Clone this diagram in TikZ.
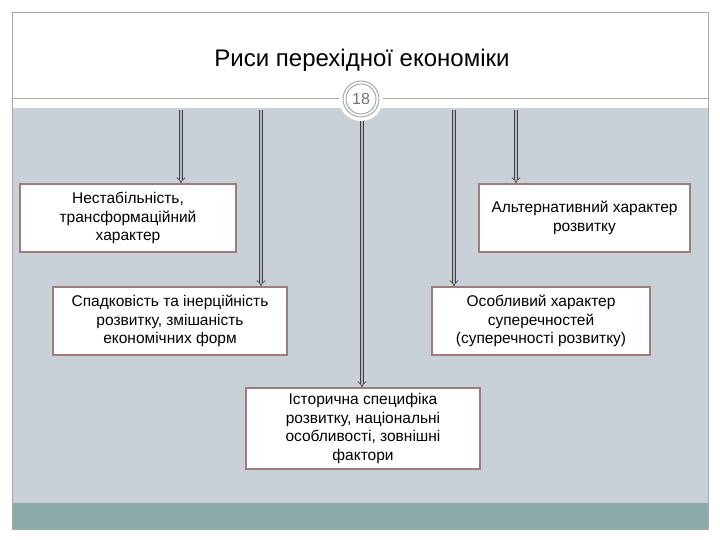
\documentclass[tikz,border=0pt]{standalone}
\usepackage{fontspec}
\setmainfont{Liberation Sans}
\usetikzlibrary{arrows.meta,
                positioning, % For easy node-relative placements
               }
\definecolor{bandgray}{HTML}{C7D1D7}
\definecolor{bandteal}{HTML}{8AABA9}
\definecolor{framegray}{HTML}{A3ABAB}
\definecolor{boxbrown}{HTML}{A07B78}
\tikzset{
  feature/.style = {rectangle, draw=boxbrown, line width=1.4pt, fill=white,
                    align=center, font=\fontsize{15.5}{18.7}\selectfont,
                    inner sep=0pt},
  downarrow/.style = {draw=black!75, double=gray!55, double distance=2.4pt,
                      line width=0.7pt, -{Implies[length=5pt]}},
}
\begin{document}
\begin{tikzpicture}[x=1pt, y=-1pt]
  \useasboundingbox (0,0) rectangle (720,540);
  % slide background
  \fill[bandgray] (12,108) rectangle (708,503);
  \fill[bandteal] (12,503) rectangle (708,529);
  \draw[framegray, line width=0.8pt] (12,12) rectangle (708,529);
  \draw[framegray, line width=1pt] (12,99) -- (708,99);
  \node (title) at (362,60) {\fontsize{24}{28}\selectfont Риси перехідної економіки};

  % page number badge
  \fill[white] (361,99) circle (22);
  \draw[framegray, line width=1pt] (361,99) circle (18);
  \draw[framegray, line width=1pt] (361,99) circle (15);
  \node (num) at (361,99) [text=black!55] {\fontsize{16}{18}\selectfont 18};

  % feature boxes
  \node (b1) [feature, minimum width=216, minimum height=68] at (128,218)
        {Нестабільність,\\трансформаційний\\характер};
  \node (b2) [feature, minimum width=234, minimum height=68] at (170,321)
        {Спадковість та інерційність\\розвитку, змішаність\\економічних форм};
  \node (b3) [feature, minimum width=234, minimum height=81] at (363,428.5)
        {Історична специфіка\\розвитку, національні\\особливості, зовнішні\\фактори};
  \node (b4) [feature, minimum width=218, minimum height=68] at (541,321)
        {Особливий характер\\суперечностей\\(суперечності розвитку)};
  \node (b5) [feature, minimum width=211, minimum height=68] at (584.5,218)
        {Альтернативний характер\\розвитку};

  % arrow start points
  \coordinate (s1) at (181,110);
  \coordinate (s2) at (261,110);
  \coordinate (s3) at (362,121);
  \coordinate (s4) at (454,110);
  \coordinate (s5) at (516,110);
  \draw [downarrow] (s1) -- (s1 |- b1.north);
  \draw [downarrow] (s2) -- (s2 |- b2.north);
  \draw [downarrow] (s3) -- (s3 |- b3.north);
  \draw [downarrow] (s4) -- (s4 |- b4.north);
  \draw [downarrow] (s5) -- (s5 |- b5.north);
\end{tikzpicture}
\end{document}
